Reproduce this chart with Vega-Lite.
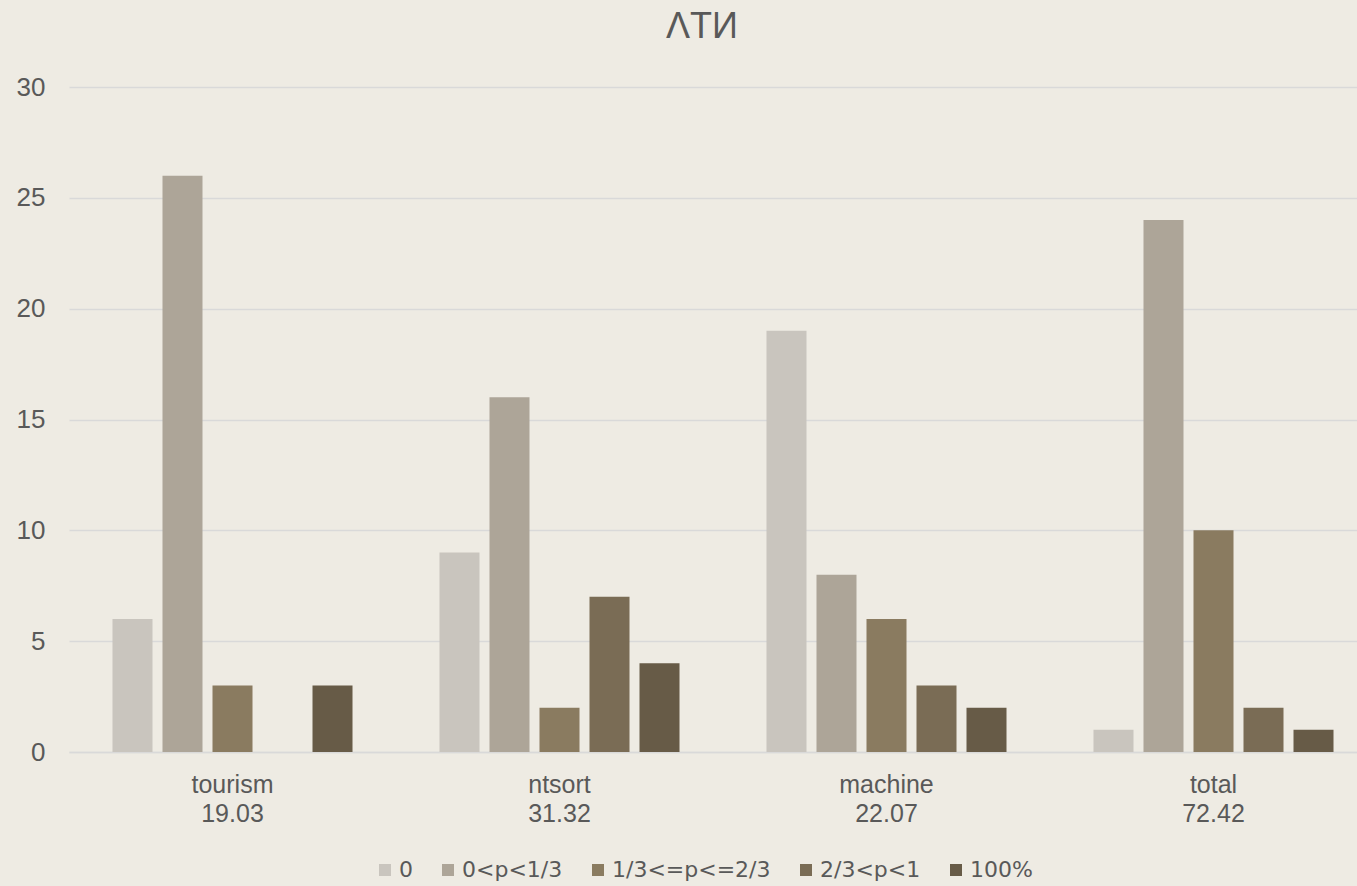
{
  "$schema": "https://vega.github.io/schema/vega-lite/v6.json",
  "width": 1308,
  "height": 665,
  "autosize": {"type": "none"},
  "padding": {"left": 69, "top": 87, "right": 0, "bottom": 134},
  "background": "#EEEBE3",
  "title": {"text": "ΛТИ", "fontSize": 36, "font": "Liberation Sans", "fontWeight": "normal", "color": "#595959", "anchor": "middle", "dx": -21, "offset": 28},
  "config": {
    "view": {"stroke": null},
    "font": "Liberation Sans"
  },
  "data": {"values": [
    {"cat": "tourism|19.03", "grp": "0", "v": 6},
    {"cat": "tourism|19.03", "grp": "0<p<1/3", "v": 26},
    {"cat": "tourism|19.03", "grp": "1/3<=p<=2/3", "v": 3},
    {"cat": "tourism|19.03", "grp": "2/3<p<1", "v": 0},
    {"cat": "tourism|19.03", "grp": "100%", "v": 3},
    {"cat": "ntsort|31.32", "grp": "0", "v": 9},
    {"cat": "ntsort|31.32", "grp": "0<p<1/3", "v": 16},
    {"cat": "ntsort|31.32", "grp": "1/3<=p<=2/3", "v": 2},
    {"cat": "ntsort|31.32", "grp": "2/3<p<1", "v": 7},
    {"cat": "ntsort|31.32", "grp": "100%", "v": 4},
    {"cat": "machine|22.07", "grp": "0", "v": 19},
    {"cat": "machine|22.07", "grp": "0<p<1/3", "v": 8},
    {"cat": "machine|22.07", "grp": "1/3<=p<=2/3", "v": 6},
    {"cat": "machine|22.07", "grp": "2/3<p<1", "v": 3},
    {"cat": "machine|22.07", "grp": "100%", "v": 2},
    {"cat": "total|72.42", "grp": "0", "v": 1},
    {"cat": "total|72.42", "grp": "0<p<1/3", "v": 24},
    {"cat": "total|72.42", "grp": "1/3<=p<=2/3", "v": 10},
    {"cat": "total|72.42", "grp": "2/3<p<1", "v": 2},
    {"cat": "total|72.42", "grp": "100%", "v": 1}
  ]},
  "mark": {"type": "bar"},
  "encoding": {
    "x": {
      "field": "cat", "type": "nominal",
      "sort": ["tourism|19.03", "ntsort|31.32", "machine|22.07", "total|72.42"],
      "scale": {"paddingInner": 0.266, "paddingOuter": 0.133},
      "axis": {
        "title": null, "labelAngle": 0, "ticks": false,
        "domainColor": "#D9D9D9", "domainWidth": 1.5,
        "labelExpr": "split(datum.label, '|')",
        "labelFontSize": 25, "labelColor": "#595959", "labelPadding": 20, "labelLineHeight": 29
      }
    },
    "xOffset": {
      "field": "grp", "type": "nominal",
      "sort": ["0", "0<p<1/3", "1/3<=p<=2/3", "2/3<p<1", "100%"],
      "scale": {"paddingInner": 0.2, "paddingOuter": 0}
    },
    "y": {
      "field": "v", "type": "quantitative",
      "scale": {"domain": [0, 30]},
      "axis": {
        "title": null, "values": [0, 5, 10, 15, 20, 25, 30], "domain": false, "ticks": false,
        "gridColor": "#D9D9D9", "gridWidth": 1.5,
        "labelFontSize": 26, "labelColor": "#595959", "labelPadding": 24
      }
    },
    "color": {
      "field": "grp", "type": "nominal",
      "sort": ["0", "0<p<1/3", "1/3<=p<=2/3", "2/3<p<1", "100%"],
      "scale": {
        "domain": ["0", "0<p<1/3", "1/3<=p<=2/3", "2/3<p<1", "100%"],
        "range": ["#C9C5BE", "#ADA598", "#8A7B60", "#7A6C55", "#675B47"]
      },
      "legend": {
        "title": null, "orient": "none", "direction": "horizontal",
        "legendX": 305, "legendY": 772, "padding": 0,
        "symbolType": "square", "symbolSize": 144, "symbolStrokeWidth": 0,
        "labelFont": "DejaVu Sans", "labelFontSize": 22, "labelColor": "#595959", "labelOffset": 3,
        "columnPadding": 24
      }
    }
  }
}
